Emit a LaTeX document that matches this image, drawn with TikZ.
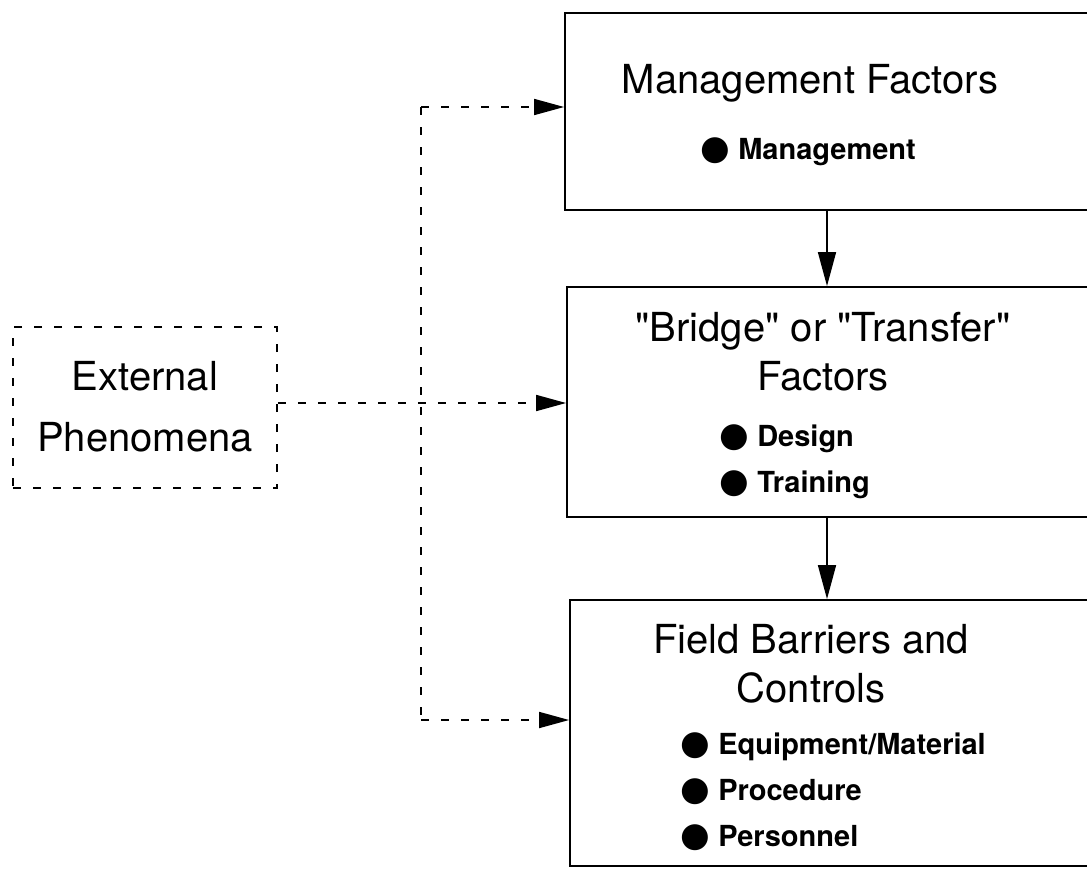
\documentclass[tikz,border=0pt]{standalone}
\usepackage{fontspec}
\setmainfont{TeX Gyre Heros}
\newfontfamily\plainfont{TeX Gyre Heros}
\newfontfamily\dotfont{DejaVu Sans}
\usetikzlibrary{arrows.meta,positioning}
\newcommand{\ttl}{\plainfont\fontsize{40}{49}\selectfont}
\newcommand{\itm}{\fontsize{29}{46}\selectfont\bfseries}
\newcommand{\bul}{{\dotfont\fontsize{34}{34}\selectfont\char"25CF}\ }

\begin{document}
\begin{tikzpicture}[x=1pt,y=-1pt,
    box/.style={draw, line width=1.8pt, inner sep=0pt},
    dashbox/.style={draw, line width=1.7pt, dash pattern=on 8pt off 12pt, inner sep=0pt},
    link/.style={line width=1.7pt, dash pattern=on 8pt off 12pt},
    tip/.style={-{Triangle[length=30pt,width=16pt]}},
    solidlink/.style={line width=1.6pt, -{Triangle[length=34pt,width=18pt]}}]
  \useasboundingbox (0,0) rectangle (1087,868);
  % boxes
  \node[box, minimum width=545pt, minimum height=197pt] (mgmt) at (837.5,111.5) {};
  \node[box, minimum width=543pt, minimum height=230pt] (bridge) at (838.5,402) {};
  \node[box, minimum width=540pt, minimum height=266pt] (field) at (840,733) {};
  \node[dashbox, minimum width=264pt, minimum height=161pt] (ext) at (145,407.5) {};
  % texts
  \node[font=\ttl] (mgmttitle) at (810,83) {Management Factors};
  \node[font=\itm, anchor=west, align=left] (mgmtlist) at (697,152) {\bul Management};
  \node[font=\ttl, align=center] (bridgetitle) at (823,352) {"Bridge" or "Transfer"\\Factors};
  \node[font=\itm, anchor=west, align=left] (bridgelist) at (716,462) {\bul Design\\\bul Training};
  \node[font=\ttl, align=center] (fieldtitle) at (811,664) {Field Barriers and\\Controls};
  \node[font=\itm, anchor=west, align=left] (fieldlist) at (677,792) {\bul Equipment/Material\\\bul Procedure\\\bul Personnel};
  \node[font=\plainfont\fontsize{40}{61}\selectfont, align=center] (exttitle) at (145,407) {External\\Phenomena};
  % dashed links
  \coordinate (spinetop) at (421,107);
  \coordinate (spinebot) at (421,720);
  \coordinate (extout) at (ext.east |- 0,403);
  \draw[link] (spinetop) -- (spinebot);
  \draw[link, tip] (spinetop) -- (spinetop -| mgmt.west);
  \draw[link, tip] (extout) -- (extout -| bridge.west);
  \draw[link, tip] (spinebot) -- (spinebot -| field.west);
  % solid links
  \coordinate (axis) at (827,0);
  \path[solidlink] (mgmt.south -| axis) edge (bridge.north -| axis);
  \path[solidlink] (bridge.south -| axis) edge (field.north -| axis);
\end{tikzpicture}
\end{document}
